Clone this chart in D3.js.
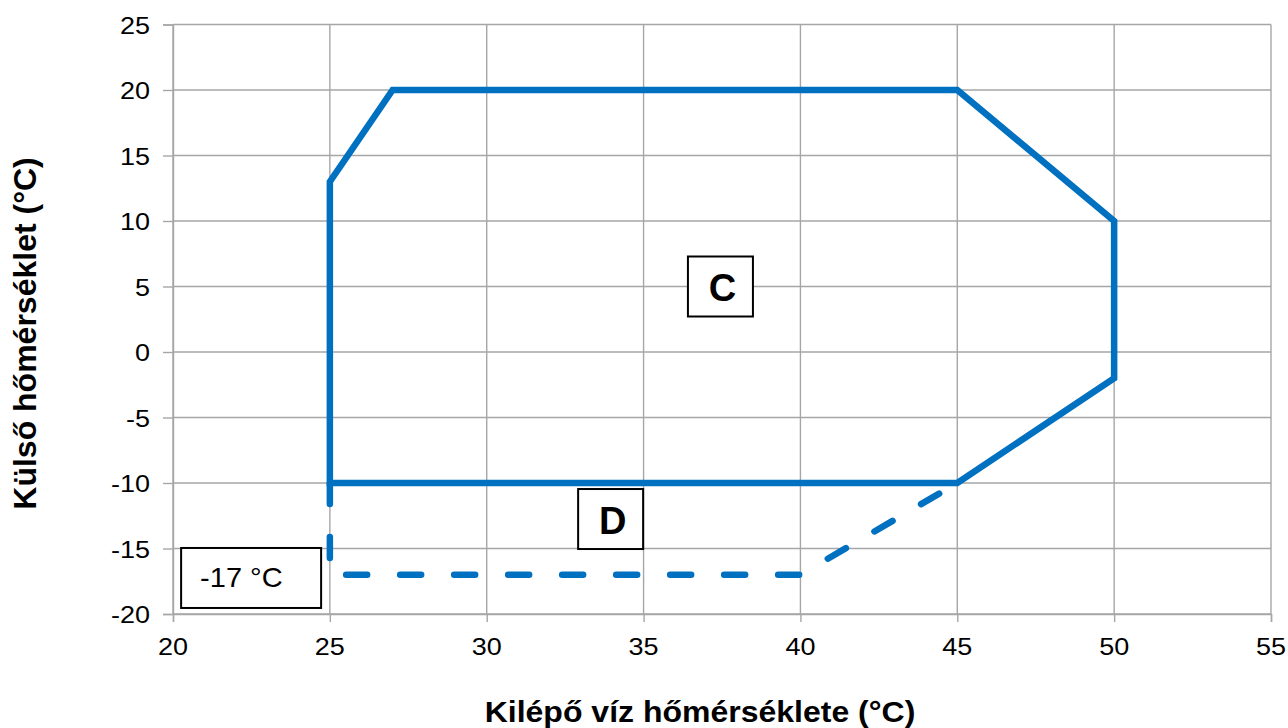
<!DOCTYPE html>
<html>
<head>
<meta charset="utf-8">
<script src="https://cdn.jsdelivr.net/npm/d3@7"></script>
<style>
  html, body { margin: 0; padding: 0; background: #ffffff; }
  svg { display: block; }
</style>
</head>
<body>
<script>
// ---- data ----
const envelopeX = [25, 25, 27, 45, 50, 50, 45, 25];
const envelopeY = [-10, 13, 20, 20, 10, -2, -10, -10];
const extensionX = [25, 25, 40, 45];
const extensionY = [-10, -17, -17, -10];
const xTicks = [20, 25, 30, 35, 40, 45, 50, 55];
const yTicks = [25, 20, 15, 10, 5, 0, -5, -10, -15, -20];
const xTitle = "Kilépő víz hőmérséklete (°C)";
const yTitle = "Külső hőmérséklet (°C)";
const annotationLabels = ["C", "D", "-17 °C"];
const annotationX = [37.45, 33.95, 22.49];
const annotationY = [5, -12.75, -17.25];

// ---- layout ----
const W = 1288, H = 728;
const padL = 173, padR = 1271, padT = 24.5, padB = 614;
const blue = "#0070C0";
const gridCol = "#a6a6a6";
const font = "'Liberation Sans', Arial, sans-serif";

const svg = d3.select("body").append("svg").attr("width", W).attr("height", H);

const x = d3.scaleLinear().domain([20, 55]).range([padL, padR]);
const y = d3.scaleLinear().domain([-20, 25]).range([padB, padT]);

// gridlines
const gg = svg.append("g");
gg.selectAll("line.v").data(xTicks).join("line").attr("class", "v")
  .attr("x1", d => x(d)).attr("x2", d => x(d))
  .attr("y1", padT).attr("y2", padB)
  .attr("stroke", gridCol).attr("stroke-width", 1.4);
gg.selectAll("line.h").data(yTicks).join("line").attr("class", "h")
  .attr("y1", d => y(d)).attr("y2", d => y(d))
  .attr("x1", padL).attr("x2", padR)
  .attr("stroke", gridCol).attr("stroke-width", 1.4);

// axes (tick marks)
const xAxis = svg.append("g").attr("transform", `translate(0,${padB})`)
  .call(d3.axisBottom(x).tickValues(xTicks).tickSize(8).tickFormat(""));
const yAxis = svg.append("g").attr("transform", `translate(${padL},0)`)
  .call(d3.axisLeft(y).tickValues(yTicks).tickSize(10).tickFormat(""));
[xAxis, yAxis].forEach(a => {
  a.selectAll("path").attr("stroke", gridCol).attr("stroke-width", 1.4);
  a.selectAll("line").attr("stroke", gridCol).attr("stroke-width", 1.4);
});

// tick labels
const tickFs = 27, tickSy = 0.92;
svg.append("g").selectAll("text").data(xTicks).join("text")
  .attr("transform", d => `translate(${x(d)},655) scale(1,${tickSy})`)
  .attr("text-anchor", "middle")
  .attr("font-family", font).attr("font-size", tickFs).attr("fill", "#000")
  .text(d => d);
svg.append("g").selectAll("text").data(yTicks).join("text")
  .attr("transform", d => `translate(150,${y(d) + 9}) scale(1,${tickSy})`)
  .attr("text-anchor", "end")
  .attr("font-family", font).attr("font-size", tickFs).attr("fill", "#000")
  .text(d => d);

// axis titles
svg.append("text")
  .attr("transform", `translate(700,722) scale(1,0.9)`)
  .attr("text-anchor", "middle")
  .attr("font-family", font).attr("font-weight", "bold").attr("font-size", 32)
  .text(xTitle);
svg.append("text")
  .attr("transform", `translate(36,333.5) rotate(-90)`)
  .attr("text-anchor", "middle")
  .attr("font-family", font).attr("font-weight", "bold").attr("font-size", 32)
  .text(yTitle);

// lines
const line = d3.line().x(d => x(d[0])).y(d => y(d[1]));
svg.append("path")
  .attr("d", line(extensionX.map((v, i) => [v, extensionY[i]])))
  .attr("fill", "none").attr("stroke", blue).attr("stroke-width", 6.5)
  .attr("stroke-linecap", "round").attr("stroke-dasharray", "21,33");
svg.append("path")
  .attr("d", line(envelopeX.map((v, i) => [v, envelopeY[i]])) + "Z")
  .attr("fill", "none").attr("stroke", blue).attr("stroke-width", 6.5)
  .attr("stroke-linejoin", "miter");

// annotation boxes
const boxW = [65, 65, 140], boxH = [60, 60, 60];
const ann = svg.append("g");
annotationLabels.forEach((lab, i) => {
  const cx = x(annotationX[i]), cy = y(annotationY[i]);
  ann.append("rect")
    .attr("x", cx - boxW[i] / 2).attr("y", cy - boxH[i] / 2)
    .attr("width", boxW[i]).attr("height", boxH[i])
    .attr("fill", "#fff").attr("stroke", "#000").attr("stroke-width", 2);
  if (i < 2) {
    ann.append("text")
      .attr("x", cx + 2).attr("y", cy + 14.5)
      .attr("text-anchor", "middle")
      .attr("font-family", font).attr("font-weight", "bold").attr("font-size", 38)
      .text(lab);
  } else {
    ann.append("text")
      .attr("transform", `translate(${cx - 51},${cy + 9}) scale(1,0.95)`)
      .attr("text-anchor", "start")
      .attr("font-family", font).attr("font-size", 29)
      .text(lab);
  }
});
</script>
</body>
</html>
